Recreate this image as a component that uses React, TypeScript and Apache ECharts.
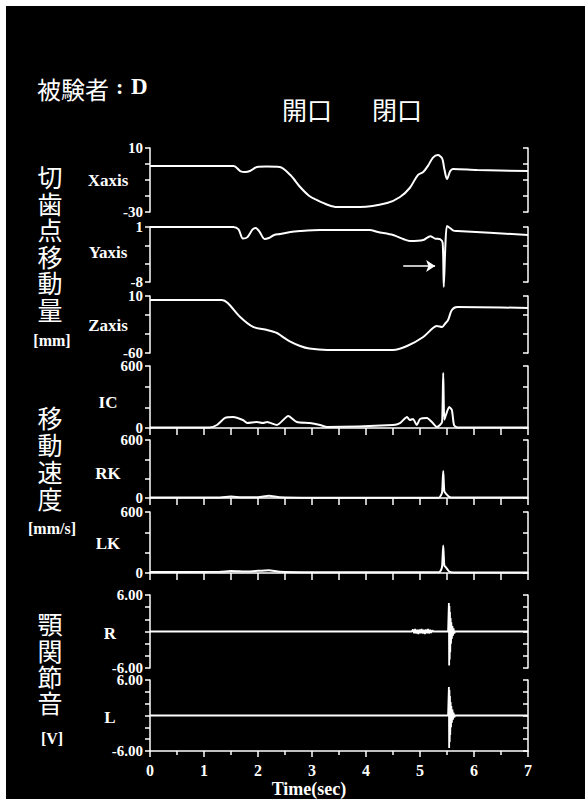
import React, { useEffect, useRef } from "react";
import * as echarts from "echarts";

// ---- data (time in seconds, value in panel units) ----
const xaxisTrace = [[0,-1.25],[1.55,-1.25],[1.67,-4.4],[1.76,-5],[1.85,-4.4],[1.98,-1.9],[2.15,-1.6],[2.4,-1.9],[2.6,-6.9],[2.78,-14.4],[2.95,-20],[3.09,-22.5],[3.3,-25.6],[3.46,-26.9],[3.89,-26.9],[4.39,-24.4],[4.63,-20.6],[4.81,-15],[4.96,-6.9],[5.06,-5],[5.15,-1],[5.24,4],[5.33,5.6],[5.41,3.5],[5.45,-3],[5.5,-9.4],[5.56,-4.4],[5.61,-3.1],[6.06,-3.75],[7,-4.4]];
const yaxisTrace = [[0,1.0],[1.54,1.0],[1.64,0.6],[1.72,-0.9],[1.8,-0.7],[1.9,0.6],[1.96,0.84],[2.03,0.2],[2.12,-0.96],[2.2,-0.8],[2.3,-0.3],[2.41,-0.15],[2.6,0.2],[2.78,0.35],[3.15,0.51],[4.07,0.51],[4.22,0.18],[4.5,-0.31],[4.7,-1.0],[4.81,-1.29],[5.06,-1.13],[5.19,-0.5],[5.28,-0.9],[5.37,-1.0],[5.42,-1.6],[5.44,-8.8],[5.47,-2],[5.5,1.16],[5.56,0.8],[5.62,0.4],[5.69,0.35],[7,-0.31]];
const zaxisTrace = [[0,5.1],[1.33,5.1],[1.44,1.4],[1.67,-15.8],[1.91,-28],[2.17,-31.8],[2.35,-35.4],[2.46,-40.3],[2.58,-45.3],[2.78,-51.4],[2.95,-54.5],[3.28,-56.3],[4.5,-56.3],[4.76,-51.4],[5.06,-40.3],[5.24,-29.3],[5.31,-26.8],[5.41,-28],[5.46,-24.4],[5.52,-19.5],[5.59,-7.2],[5.69,-3.5],[7,-4.7]];
const icTrace = [[0,5],[1.1,5],[1.24,29],[1.39,97],[1.54,106],[1.72,77],[1.8,48],[1.98,58],[2.09,48],[2.17,58],[2.35,29],[2.56,116],[2.72,58],[2.96,48],[3.15,29],[3.28,10],[4.5,29],[4.63,48],[4.76,106],[4.81,77],[4.87,87],[4.94,29],[5.0,87],[5.13,97],[5.22,58],[5.31,10],[5.37,29],[5.41,60],[5.43,532],[5.45,80],[5.48,126],[5.54,203],[5.59,174],[5.63,29],[5.69,5],[7,5]];
const rkTrace = [[0,5],[1.3,5],[1.5,15],[1.7,8],[2.0,8],[2.2,22],[2.4,8],[3.0,3],[5.35,3],[5.39,30],[5.41,60],[5.43,280],[5.45,70],[5.48,45],[5.54,12],[5.62,4],[7,4]];
const lkTrace = [[0,10],[1.3,12],[1.5,20],[1.8,14],[2.2,28],[2.4,12],[3.0,8],[5.35,8],[5.39,30],[5.41,70],[5.43,271],[5.45,75],[5.48,55],[5.54,15],[5.62,6],[7,6]];
const rTrace = [[0,0],[4.85,0],[4.87,0.35],[4.89,-0.3],[4.91,0.4],[4.93,-0.35],[4.95,0.3],[4.97,-0.4],[4.99,0.35],[5.01,-0.3],[5.03,0.4],[5.05,-0.35],[5.07,0.3],[5.09,-0.4],[5.11,0.35],[5.13,-0.3],[5.15,0.4],[5.17,-0.35],[5.19,0.3],[5.21,-0.25],[5.23,0.2],[5.25,0],[5.52,0],[5.535,4.7],[5.54,-5.6],[5.545,4.2],[5.55,-4.6],[5.555,3.2],[5.56,-3.4],[5.567,2.2],[5.574,-2],[5.58,1.5],[5.59,-1.2],[5.6,0.9],[5.61,-0.7],[5.62,0.5],[5.635,-0.3],[5.65,0],[7,0]];
const lTrace = [[0,0],[5.52,0],[5.535,4.8],[5.54,-5.5],[5.545,4.3],[5.55,-4.5],[5.555,3.3],[5.56,-3.3],[5.567,2.3],[5.574,-2],[5.58,1.6],[5.59,-1.2],[5.6,1.0],[5.61,-0.7],[5.62,0.5],[5.635,-0.3],[5.65,0],[7,0]];

const panelNames = ["Xaxis", "Yaxis", "Zaxis", "IC", "RK", "LK", "R", "L"];
const panelMins = [-30, -8, -60, 0, 0, 0, -6, -6];
const panelMaxs = [10, 1, 10, 600, 600, 600, 6, 6];
const panelTicks = [
  [10, 0, -10, -20, -30],
  [1, -2, -5, -8],
  [10, -13.333, -36.667, -60],
  [0, 200, 400, 600],
  [0, 200, 400, 600],
  [0, 200, 400, 600],
  [6, 4, 2, 0, -2, -4, -6],
  [6, 4, 2, 0, -2, -4, -6],
];
const panelDecimals = [0, 0, 0, 0, 0, 0, 2, 2];
const panelTraces = [xaxisTrace, yaxisTrace, zaxisTrace, icTrace, rkTrace, lkTrace, rTrace, lTrace];

// arrow annotation on the Y trace (time, value)
const arrowFrom = [4.69, -5.4];
const arrowTo = [5.28, -5.4];

// ---- layout ----
const GRID_LEFT = 150;
const GRID_WIDTH = 378;
const gridTops = [148, 227, 296, 366, 440, 512, 595, 680];
const gridHeights = [64, 55, 57, 62, 58, 61, 73, 71];
const labelY = [180, 252, 325, 402, 473, 543, 633, 717];
const xAxisMode = ["none", "none", "none", "ticks", "ticks", "ticks", "none", "full"];
const smoothVals = [0.3, 0.25, 0.3, 0.2, 0.2, 0.2, false, false];

const SERIF = "'Liberation Serif', 'Times New Roman', serif";
const CJK = "'Noto Sans CJK JP', 'Noto Sans CJK SC', sans-serif";
const W = "#ffffff";

const sideGroups = [
  { chars: ["切", "歯", "点", "移", "動", "量"], ys: [176, 203, 229, 256, 282, 309], unit: "[mm]", unitY: 340 },
  { chars: ["移", "動", "速", "度"], ys: [417, 444, 471, 498], unit: "[mm/s]", unitY: 528 },
  { chars: ["顎", "関", "節", "音"], ys: [623, 650, 676, 702], unit: "[V]", unitY: 738 },
];

export default function App() {
  const ref = useRef<HTMLDivElement>(null);
  useEffect(() => {
    if (!ref.current) return;
    const chart = echarts.init(ref.current, undefined, { renderer: "svg" });

    const grid: any[] = [];
    const xAxis: any[] = [];
    const yAxis: any[] = [];
    const series: any[] = [];

    panelNames.forEach((name, i) => {
      grid.push({ left: GRID_LEFT, width: GRID_WIDTH, top: gridTops[i], height: gridHeights[i] });
      const mode = xAxisMode[i];
      xAxis.push({
        gridIndex: i,
        type: "value",
        min: 0,
        max: 7,
        interval: mode === "full" ? 1 : 0.5,
        show: mode !== "none",
        axisLine: { show: true, onZero: false, lineStyle: { color: W, width: 1.5 } },
        axisTick: { show: true, length: mode === "full" ? 6 : 7, lineStyle: { color: W, width: 1.5 } },
        minorTick: { show: mode === "full", splitNumber: 2, length: 4, lineStyle: { color: W, width: 1.5 } },
        axisLabel: {
          show: mode === "full",
          color: W,
          fontFamily: SERIF,
          fontWeight: "bold",
          fontSize: 16,
          margin: 11,
        },
        splitLine: { show: false },
      });
      const dec = panelDecimals[i];
      const common = {
        gridIndex: i,
        type: "value",
        min: panelMins[i],
        max: panelMaxs[i],
        splitLine: { show: false },
        axisLine: { show: true, onZero: false, lineStyle: { color: W, width: 1.5 } },
      };
      yAxis.push({
        ...common,
        position: "left",
        axisTick: { show: true, inside: false, length: 5, customValues: panelTicks[i], lineStyle: { color: W, width: 1.5 } },
        axisLabel: {
          show: true,
          customValues: [panelMaxs[i], panelMins[i]],
          formatter: (v: number) => v.toFixed(dec),
          color: W,
          fontFamily: SERIF,
          fontWeight: "bold",
          fontSize: 15,
          margin: 7,
        },
      });
      yAxis.push({
        ...common,
        position: "right",
        axisTick: { show: true, inside: true, length: 5, customValues: panelTicks[i], lineStyle: { color: W, width: 1.5 } },
        axisLabel: { show: false },
      });
      const s: any = {
        type: "line",
        name,
        xAxisIndex: i,
        yAxisIndex: 2 * i,
        data: panelTraces[i],
        showSymbol: false,
        symbol: "none",
        smooth: smoothVals[i],
        clip: false,
        lineStyle: { color: W, width: i >= 6 ? 1.8 : 2 },
        silent: true,
      };
      if (i === 1) {
        s.markLine = {
          silent: true,
          symbol: ["none", "arrow"],
          symbolSize: 9,
          label: { show: false },
          lineStyle: { color: W, width: 1.5, type: "solid" },
          data: [[{ coord: arrowFrom }, { coord: arrowTo }]],
        };
      }
      series.push(s);
    });

    const graphic: any[] = [];
    // title
    graphic.push({ type: "text", left: 37, top: 76, style: { text: "被験者", fill: W, font: `24px ${CJK}` } });
    graphic.push({ type: "text", left: 116, top: 75, style: { text: ":", fill: W, font: `bold 22px ${SERIF}` } });
    graphic.push({ type: "text", left: 131, top: 75, style: { text: "D", fill: W, font: `bold 23px ${SERIF}` } });
    graphic.push({ type: "text", left: 282, top: 96, style: { text: "開口", fill: W, font: `25px ${CJK}` } });
    graphic.push({ type: "text", left: 372, top: 96, style: { text: "閉口", fill: W, font: `25px ${CJK}` } });
    // panel labels
    panelNames.forEach((name, i) => {
      graphic.push({
        type: "text",
        x: name.length === 1 ? 110 : 108,
        y: labelY[i],
        style: { text: name, fill: W, font: `bold 17px ${SERIF}`, textAlign: "center", textVerticalAlign: "middle" },
      });
    });
    // side labels (vertical stacks of characters)
    sideGroups.forEach((g) => {
      g.chars.forEach((c, k) => {
        graphic.push({
          type: "text",
          x: 50,
          y: g.ys[k],
          style: { text: c, fill: W, font: `25px ${CJK}`, textAlign: "center", textVerticalAlign: "middle" },
        });
      });
      graphic.push({
        type: "text",
        x: 52,
        y: g.unitY,
        style: { text: g.unit, fill: W, font: `bold 16px ${SERIF}`, textAlign: "center", textVerticalAlign: "middle" },
      });
    });
    graphic.push({
      type: "text",
      x: 309,
      y: 789,
      style: { text: "Time(sec)", fill: W, font: `bold 18px ${SERIF}`, textAlign: "center", textVerticalAlign: "middle" },
    });

    chart.setOption({
      animation: false,
      backgroundColor: "transparent",
      grid,
      xAxis,
      yAxis,
      series,
      graphic,
    });
    return () => chart.dispose();
  }, []);

  return (
    <div style={{ position: "absolute", left: 0, top: 0, width: 585, height: 799, background: "#fff" }}>
      <div style={{ position: "absolute", left: 6, top: 6, width: 579, height: 793, background: "#000" }} />
      <div ref={ref} style={{ position: "absolute", left: 0, top: 0, width: 585, height: 799 }} />
    </div>
  );
}
